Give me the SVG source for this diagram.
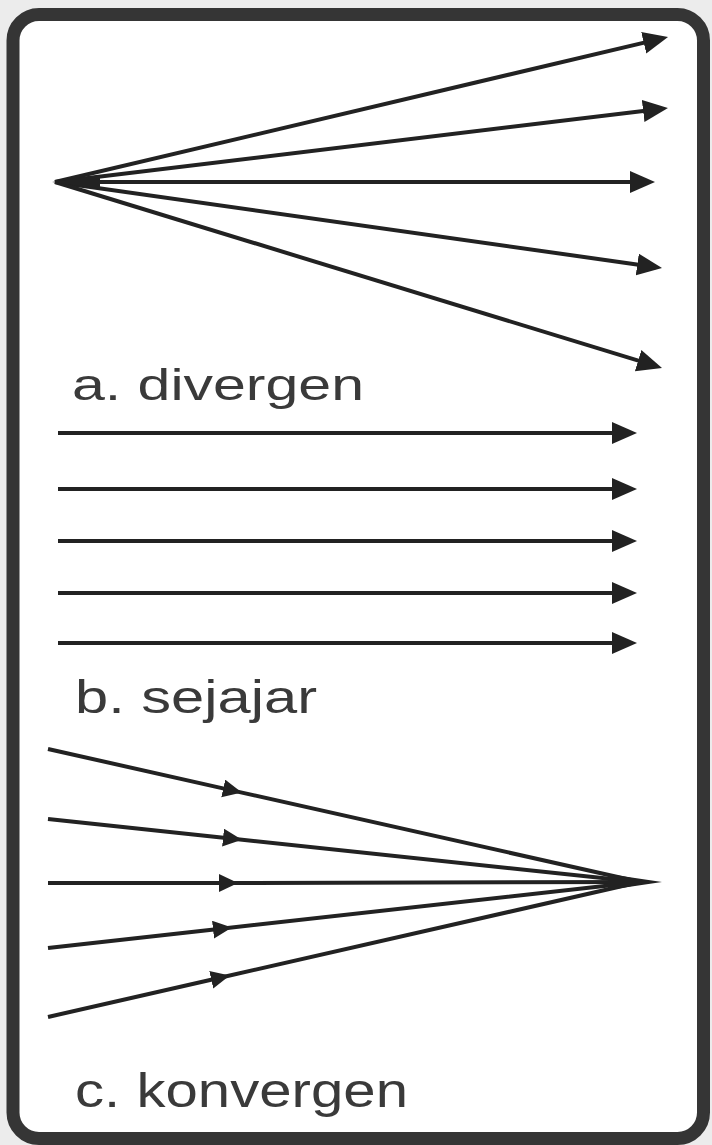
<svg xmlns="http://www.w3.org/2000/svg" width="712" height="1145" viewBox="0 0 712 1145">
<style>
.ray{stroke:#222;stroke-width:4;fill:none;stroke-linecap:butt}
.lbl{font-family:"Liberation Sans",Arial,sans-serif;font-size:45px;fill:#3a3a3a}
</style>
<defs>
<marker id="ah" markerUnits="userSpaceOnUse" markerWidth="27" markerHeight="24" refX="19" refY="11" orient="auto">
<path d="M0,0 L25,11 L0,22 Z" fill="#222"/>
</marker>
<marker id="mh" markerUnits="userSpaceOnUse" markerWidth="22" markerHeight="20" refX="10" refY="9" orient="auto">
<path d="M0,0 L19,9 L0,18 Z" fill="#222"/>
</marker>
</defs>
<rect x="0" y="0" width="712" height="1145" fill="#ececec"/>
<rect id="frame" x="13" y="14.5" width="690.5" height="1124" rx="26" ry="26" fill="#fff" stroke="#353535" stroke-width="13"/>
<g id="connectors">
<g id="divergent">
<path class="ray" d="M55,182 L662.2,38.4" marker-end="url(#ah)"/>
<path class="ray" d="M55,182 L662,108.7" marker-end="url(#ah)"/>
<path class="ray" d="M55,182 L649,182" marker-end="url(#ah)"/>
<path class="ray" d="M55,182 L656.1,267.2" marker-end="url(#ah)"/>
<path class="ray" d="M55,182 L656.3,366.2" marker-end="url(#ah)"/>
<path d="M52,182 L100,175 L100,189 Z" fill="#222"/>
</g>
<g id="parallel">
<path class="ray" d="M58,433 L631,433" marker-end="url(#ah)"/>
<path class="ray" d="M58,489 L631,489" marker-end="url(#ah)"/>
<path class="ray" d="M58,541 L631,541" marker-end="url(#ah)"/>
<path class="ray" d="M58,593 L631,593" marker-end="url(#ah)"/>
<path class="ray" d="M58,643 L631,643" marker-end="url(#ah)"/>
</g>
<g id="convergent">
<path class="ray" d="M48,749 L233,790.6 L640,882" marker-mid="url(#mh)"/>
<path class="ray" d="M48,819 L233,838.7 L640,882" marker-mid="url(#mh)"/>
<path class="ray" d="M48,883 L229,883 L640,882" marker-mid="url(#mh)"/>
<path class="ray" d="M48,948 L223,928.5 L640,882" marker-mid="url(#mh)"/>
<path class="ray" d="M48,1017 L221,977.5 L640,882" marker-mid="url(#mh)"/>
<path d="M662,882 L608,874 L608,890 Z" fill="#222"/>
</g>
</g>
<g id="labels">
<text id="label-a" class="lbl" x="72" y="400" textLength="292" lengthAdjust="spacingAndGlyphs">a. divergen</text>
<text id="label-b" class="lbl" x="75" y="713" style="font-size:47px" textLength="242" lengthAdjust="spacingAndGlyphs">b. sejajar</text>
<text id="label-c" class="lbl" x="75" y="1107" style="font-size:49px" textLength="333" lengthAdjust="spacingAndGlyphs">c. konvergen</text>
</g>
</svg>
